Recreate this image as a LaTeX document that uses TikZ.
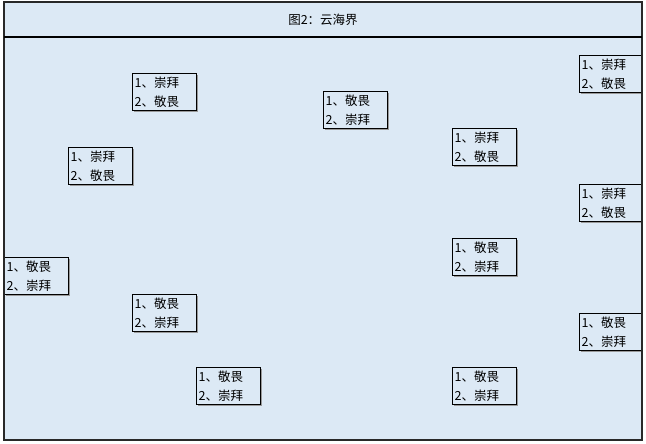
\documentclass[tikz,border=0pt]{standalone}
\usepackage{fontspec}
\setmainfont{Noto Sans CJK SC}
\usetikzlibrary{shadows}
\definecolor{bgblue}{RGB}{220,233,245}
\definecolor{frameline}{RGB}{40,40,40}
\begin{document}
\begin{tikzpicture}[x=1pt,y=-1pt,
  cbox/.style={draw=black, fill=bgblue, line width=1.2pt, anchor=north west,
    minimum width=64pt, minimum height=37pt, text width=60pt,
    inner xsep=2pt, inner ysep=0pt, align=left,
    font=\fontsize{12.5}{19}\selectfont,
    general shadow={fill=black!40, shadow xshift=1.2pt, shadow yshift=-1.2pt}},
  ttl/.style={font=\fontsize{12.5}{14}\selectfont}]
\useasboundingbox (0,0) rectangle (646,444);
\fill[white] (0,0) rectangle (646,444);
\fill[bgblue] (4,2) rectangle (642,440);
\begin{scope}
\clip (4,37) rectangle (642,440);
\node[cbox] (b1) at (132,73) {1、崇拜\\2、敬畏};
\node[cbox] (b2) at (323,91) {1、敬畏\\2、崇拜};
\node[cbox] (b3) at (579,55) {1、崇拜\\2、敬畏};
\node[cbox] (b4) at (68,147) {1、崇拜\\2、敬畏};
\node[cbox] (b5) at (452,128) {1、崇拜\\2、敬畏};
\node[cbox] (b6) at (579,184) {1、崇拜\\2、敬畏};
\node[cbox] (b7) at (4,257) {1、敬畏\\2、崇拜};
\node[cbox] (b8) at (452,238) {1、敬畏\\2、崇拜};
\node[cbox] (b9) at (132,294) {1、敬畏\\2、崇拜};
\node[cbox] (b10) at (579,313) {1、敬畏\\2、崇拜};
\node[cbox] (b11) at (196,367) {1、敬畏\\2、崇拜};
\node[cbox] (b12) at (452,367) {1、敬畏\\2、崇拜};
\end{scope}
\draw[frameline, line width=1.5pt] (4,2) rectangle (642,440);
\draw[black, line width=1.5pt] (4,37) -- (642,37);
\node[ttl] (title) at (323,20) {图2：云海界};
\end{tikzpicture}
\end{document}
